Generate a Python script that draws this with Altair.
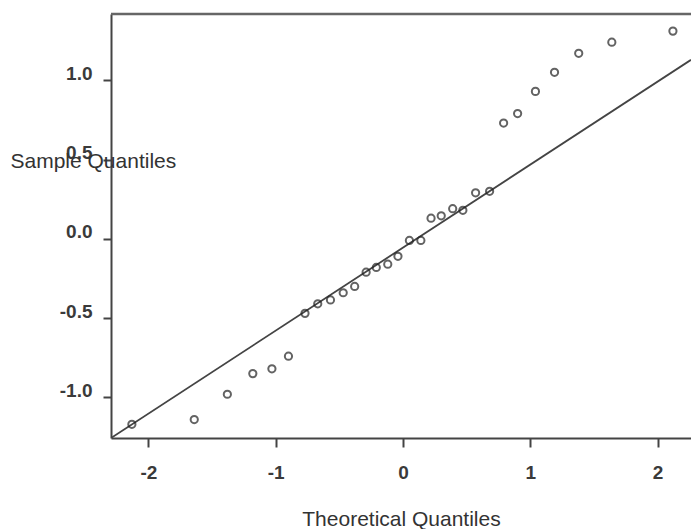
import altair as alt
import pandas as pd

theoretical = [-2.13, -1.64, -1.38, -1.18, -1.03, -0.90, -0.77, -0.67, -0.57, -0.47,
               -0.38, -0.29, -0.21, -0.12, -0.04, 0.05, 0.14, 0.22, 0.30, 0.39,
               0.47, 0.57, 0.68, 0.79, 0.90, 1.04, 1.19, 1.38, 1.64, 2.12]
sample = [-1.17, -1.14, -0.98, -0.85, -0.82, -0.74, -0.47, -0.41, -0.385, -0.34,
          -0.30, -0.21, -0.18, -0.16, -0.11, -0.01, -0.01, 0.13, 0.145, 0.19,
          0.18, 0.29, 0.30, 0.73, 0.79, 0.93, 1.05, 1.17, 1.24, 1.31]
line_x = [-2.294, 2.262]
line_y = [-1.256, 1.129]
x_ticks = [-2, -1, 0, 1, 2]
y_ticks = [-1.0, -0.5, 0.0, 0.5, 1.0]

pts = pd.DataFrame({"t": theoretical, "s": sample})
ln = pd.DataFrame({"t": line_x, "s": line_y})

W, H = 580, 424
xs = alt.Scale(domain=[-2.294, 2.262], nice=False, zero=False)
ys = alt.Scale(domain=[-1.256, 1.418], nice=False, zero=False)

label_font = "Liberation Sans"

xaxis = alt.Axis(values=x_ticks, title="Theoretical Quantiles", grid=False,
                 labelExpr="datum.value < 0 ? '-' + format(abs(datum.value), 'd') : format(datum.value, 'd')",
                 domainColor="#444", domainWidth=2, tickColor="#444", tickWidth=2,
                 tickSize=9, labelPadding=16, labelFontSize=19, labelColor="#3a3a3a",
                 labelFont=label_font, labelFontWeight="bold",
                 titleFont=label_font, titleFontSize=21, titleFontWeight="normal",
                 titleColor="#333", titleY=87, titleBaseline="alphabetic")
yaxis = alt.Axis(values=y_ticks, title="Sample Quantiles", grid=False,
                 labelExpr="datum.value < 0 ? '-' + format(abs(datum.value), '.1f') : format(datum.value, '.1f')",
                 domainColor="#444", domainWidth=2, tickColor="#444", tickWidth=2,
                 tickSize=8, labelPadding=11, labelFontSize=19, labelColor="#3a3a3a",
                 labelFont=label_font, labelFontWeight="bold", labelBaseline="alphabetic",
                 labelOffset=-1,
                 titleFont=label_font, titleFontSize=21, titleFontWeight="normal",
                 titleColor="#333", titleAngle=0, titleAlign="left",
                 titleX=-101, titleY=153, titleBaseline="alphabetic")

points = alt.Chart(pts).mark_point(shape="circle", filled=False, size=52,
                                   strokeWidth=2, color="#222").encode(
    x=alt.X("t:Q", scale=xs, axis=xaxis),
    y=alt.Y("s:Q", scale=ys, axis=yaxis),
)

qqline = alt.Chart(ln).mark_line(color="#444", strokeWidth=1.8, clip=True).encode(
    x=alt.X("t:Q", scale=xs),
    y=alt.Y("s:Q", scale=ys),
)

top_border = alt.Chart(pd.DataFrame({"a": [0]})).mark_rule(color="#666", strokeWidth=2.5).encode(
    x=alt.value(0), x2=alt.value(W), y=alt.value(0)
)

chart = alt.layer(qqline, points, top_border).properties(
    width=W, height=H,
    autosize=alt.AutoSizeParams(type="none"),
    padding={"left": 111, "top": 14, "right": 0, "bottom": 91},
    background="white",
).configure_view(stroke=None)

chart.save("out.html", embed_options={"renderer": "svg", "actions": False})
